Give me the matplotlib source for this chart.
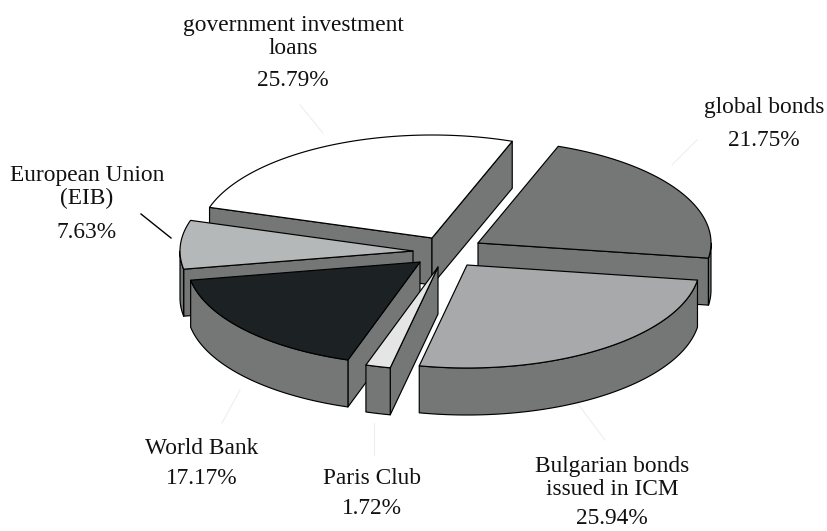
import numpy as np
import matplotlib
matplotlib.use('Agg')
import matplotlib.pyplot as plt
from matplotlib.patches import Polygon

# shares, clockwise starting from the government loans slice
names = ['government investment\nloans', 'global bonds', 'Bulgarian bonds\nissued in ICM',
         'Paris Club', 'World Bank', 'European Union\n(EIB)']
shares = [25.79, 21.75, 25.94, 1.72, 17.17, 7.63]

top_colors = ['#ffffff', '#757776', '#a8a9ab', '#e4e5e4', '#1c2123', '#b5b8b8']
side_color = '#757776'

# pixel geometry of the pie
cx, cy = 440, 250
rx, ry = 233, 103
depth = 47
start_angle = 162.7
# how far each slice is pulled out from the centre
explode = [(-8, -12), (38, -7), (27, 15), (-2, 17), (-20, 12), (-27, 1)]
# text positions: centre x, name y, percentage y
label_pos = [(293, 37, 80), (764, 107, 140), (612, 478, 519),
             (372, 478, 509), (202, 448, 479), (87, 187, 232)]
# order the slices get painted in, back to front
draw_order = [0, 1, 5, 4, 3, 2]

fig = plt.figure(figsize=(8.27, 5.31), dpi=100)
ax = fig.add_axes([0, 0, 1, 1])
ax.set_xlim(0, 827)
ax.set_ylim(531, 0)
ax.axis('off')


def rim(x0, y0, a1, a2, n=80):
    t = np.radians(np.linspace(a1, a2, n))
    return np.column_stack([x0 + rx * np.cos(t), y0 - ry * np.sin(t)])


def add_poly(pts, color, z):
    ax.add_patch(Polygon(pts, closed=True, facecolor=color, edgecolor='black',
                         linewidth=0.85, joinstyle='round', zorder=z))


# slice angles come straight from the shares
sweeps = np.array(shares) / sum(shares) * 360
ends = start_angle - np.cumsum(sweeps)
starts = ends + sweeps

for z, i in enumerate(draw_order):
    a1, a2 = starts[i], ends[i]
    x0, y0 = cx + explode[i][0], cy + explode[i][1]
    base = z * 10 + 1
    drop = np.array([0, depth])
    apex = np.array([x0, y0])

    # cut faces, only when they face the viewer
    for edge, normal in ((a1, a1 + 90), (a2, a2 - 90)):
        if np.sin(np.radians(normal)) < 0:
            p = rim(x0, y0, edge, edge, 2)[0]
            add_poly([apex, p, p + drop, apex + drop], side_color, base)

    # outer wall, front half of the ellipse only
    lo, hi = max(a2, -180), min(a1, 0)
    if hi > lo:
        arc = rim(x0, y0, hi, lo)
        add_poly(np.vstack([arc, (arc + drop)[::-1]]), side_color, base + 1)

    # top
    add_poly(np.vstack([apex, rim(x0, y0, a1, a2)]), top_colors[i], base + 2)

# leader lines, only the EIB one is really visible in the scan
ax.plot([141, 171], [214, 238], color='black', lw=1.0, zorder=100)
faint = [((300, 323), (105, 133)), ((672, 697), (165, 140)), ((575, 605), (400, 440)),
         ((374, 374), (423, 455)), ((240, 222), (390, 423))]
for xs, ys in faint:
    ax.plot(xs, ys, color='#eeeeee', lw=0.8, zorder=0)

for name, v, (tx, ny, vy) in zip(names, shares, label_pos):
    ax.text(tx, ny, name, ha='center', va='center', fontsize=16.8,
            family='Liberation Serif', color='#111111', linespacing=1.15, zorder=101)
    ax.text(tx, vy, f'{v:.2f}%', ha='center', va='center', fontsize=16.8,
            family='Liberation Serif', color='#111111', zorder=101)

fig.savefig('out.png', dpi=100)
